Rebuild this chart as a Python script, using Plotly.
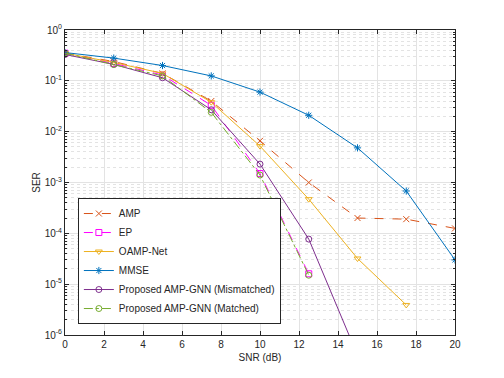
import plotly.graph_objects as go

snr = [0, 2.5, 5, 7.5, 10, 12.5, 15, 17.5, 20]

amp = [0.35, 0.24, 0.14, 0.040, 0.0066, 0.0010, 2.0e-4, 1.9e-4, 1.25e-4]
ep = [0.35, 0.22, 0.13, 0.033, 0.0015, 1.6e-5]
oamp_net = [0.35, 0.23, 0.14, 0.038, 0.0052, 4.7e-4, 3.2e-5, 3.9e-6]
mmse = [0.36, 0.28, 0.20, 0.125, 0.060, 0.021, 0.0048, 6.8e-4, 3.0e-5]
gnn_mismatched = [0.33, 0.21, 0.115, 0.027, 0.0023, 7.7e-5, 4.0e-7]
gnn_matched = [0.35, 0.21, 0.125, 0.024, 0.0014, 1.5e-5]

y_tickvals = [1e-6, 1e-5, 1e-4, 1e-3, 1e-2, 1e-1, 1]
y_ticktext = ["10<sup>-6</sup>", "10<sup>-5</sup>", "10<sup>-4</sup>", "10<sup>-3</sup>",
              "10<sup>-2</sup>", "10<sup>-1</sup>", "10<sup>0</sup>"]

series = [
    ("AMP", amp, "#D95319", "dash", "x-thin-open"),
    ("EP", ep, "#FF00FF", "dash", "square-open"),
    ("OAMP-Net", oamp_net, "#EDB120", "solid", "triangle-down-open"),
    ("MMSE", mmse, "#0072BD", "solid", "asterisk-open"),
    ("Proposed AMP-GNN (Mismatched)", gnn_mismatched, "#7E2F8E", "solid", "circle-open"),
    ("Proposed AMP-GNN (Matched)", gnn_matched, "#77AC30", "dashdot", "circle-open"),
]

fig = go.Figure()
for name, vals, color, dash, symbol in series:
    fig.add_trace(go.Scatter(
        x=snr[:len(vals)], y=vals, name=name, mode="lines+markers",
        line=dict(color=color, width=1, dash=dash),
        marker=dict(symbol=symbol, size=6, color=color, line=dict(color=color, width=1)),
    ))

axis_common = dict(
    showline=True, linecolor="#262626", linewidth=1, mirror="ticks",
    ticks="inside", ticklen=4, tickcolor="#262626",
    showgrid=True, gridcolor="#e3e3e3", gridwidth=1,
    zeroline=False, tickfont=dict(size=10, color="#262626"),
    automargin=False,
)

fig.update_xaxes(
    range=[0, 20], dtick=2, tick0=0,
    title=dict(text="SNR (dB)", font=dict(size=10, color="#262626"), standoff=4),
    **axis_common,
)
fig.update_yaxes(
    type="log", range=[-6, 0], tickvals=y_tickvals, ticktext=y_ticktext,
    title=dict(text="SER", font=dict(size=10, color="#262626"), standoff=2),
    minor=dict(dtick="D1", ticks="inside", ticklen=2, tickcolor="#262626",
               showgrid=True, gridcolor="#e3e3e3", griddash="dot"),
    **axis_common,
)

fig.update_layout(
    width=504, height=378,
    margin=dict(l=57, r=57, t=22, b=51),
    paper_bgcolor="white", plot_bgcolor="white",
    font=dict(family="Liberation Sans, Arial, sans-serif", size=10, color="#262626"),
    legend=dict(
        x=0.033, y=0.036, xanchor="left", yanchor="bottom",
        bgcolor="white", bordercolor="#262626", borderwidth=1,
        font=dict(size=10), tracegroupgap=0, itemwidth=30,
    ),
)

fig.write_html("out.html")
